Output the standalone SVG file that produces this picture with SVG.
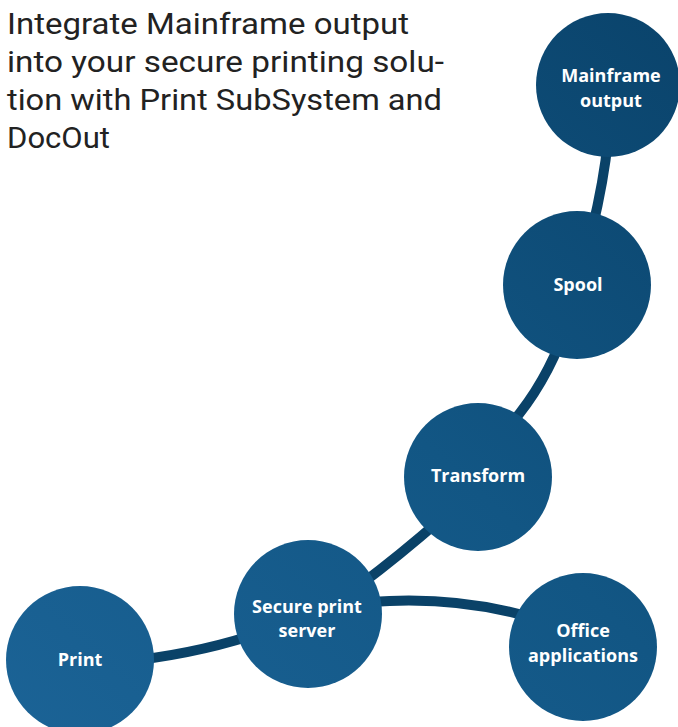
<svg xmlns="http://www.w3.org/2000/svg" width="678" height="727" viewBox="0 0 678 727">
<defs>
<linearGradient id="bg" gradientUnits="userSpaceOnUse" x1="0" y1="727" x2="678" y2="0">
<stop offset="0" stop-color="#1b6396"/>
<stop offset="0.5" stop-color="#125684"/>
<stop offset="1" stop-color="#0a436b"/>
</linearGradient>
<style>
.node circle{fill:url(#bg);}
.node text{font-family:"Open Sans","Noto Sans",sans-serif;font-weight:bold;font-size:18px;fill:#ffffff;text-anchor:middle;}
.title{font-family:"Roboto","Inter",sans-serif;font-size:29px;fill:#222222;}
#connectors path{fill:none;stroke:#0a4268;stroke-width:10;stroke-linecap:butt;}
</style>
</defs>
<rect width="678" height="727" fill="#ffffff"/>
<g id="title">
<text class="title" x="7" y="34" textLength="402" lengthAdjust="spacingAndGlyphs">Integrate Mainframe output</text>
<text class="title" x="7" y="72" textLength="437" lengthAdjust="spacingAndGlyphs">into your secure printing solu-</text>
<text class="title" x="7" y="110" textLength="435" lengthAdjust="spacingAndGlyphs">tion with Print SubSystem and</text>
<text class="title" x="7" y="148" textLength="103" lengthAdjust="spacingAndGlyphs">DocOut</text>
</g>
<g id="connectors">
<path d="M608 140 Q604 180 592 230"/>
<path d="M565 330 Q545 385 510 425"/>
<path d="M440 520 Q400 555 360 585"/>
<path d="M370 602 Q460 595 540 620"/>
<path d="M120 662 Q190 655 250 636"/>
</g>
<g id="node-mainframe" class="node">
<circle cx="608" cy="85" r="72"/>
<text x="611" y="82">Mainframe</text>
<text x="611" y="107">output</text>
</g>
<g id="node-spool" class="node">
<circle cx="577" cy="285" r="74"/>
<text x="578" y="291">Spool</text>
</g>
<g id="node-transform" class="node">
<circle cx="478" cy="477" r="74"/>
<text x="478" y="482">Transform</text>
</g>
<g id="node-secure" class="node">
<circle cx="308" cy="614" r="74"/>
<text x="307" y="613">Secure print</text>
<text x="307" y="637">server</text>
</g>
<g id="node-office" class="node">
<circle cx="583" cy="647" r="74"/>
<text x="583" y="637">Office</text>
<text x="583" y="662">applications</text>
</g>
<g id="node-print" class="node">
<circle cx="80" cy="660" r="74"/>
<text x="80" y="666">Print</text>
</g>
</svg>
